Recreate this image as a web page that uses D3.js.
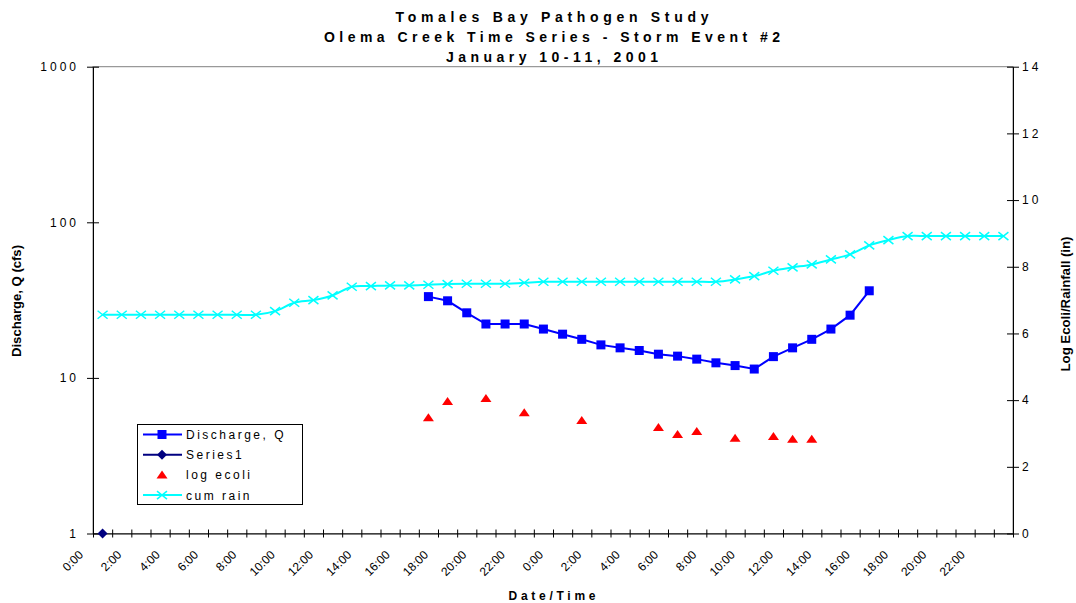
<!DOCTYPE html>
<html lang="en">

<head>
  <meta charset="UTF-8">
  <title>Olema Creek Time Series</title>
  <script src="https://cdn.jsdelivr.net/npm/d3@7.6.1/dist/d3.min.js"></script>
  <style>
    body { margin: 0; background: #fff; }
    svg { display: block; font-family: "Liberation Sans", Arial, sans-serif; }
  </style>
</head>

<body>
  <div id="chart"></div>
  <script>
    const width = 1076
    const height = 603

    // hourly categories, two days
    const categories = [
      '0:00', '1:00', '2:00', '3:00', '4:00', '5:00', '6:00', '7:00', '8:00', '9:00', '10:00', '11:00',
      '12:00', '13:00', '14:00', '15:00', '16:00', '17:00', '18:00', '19:00', '20:00', '21:00', '22:00', '23:00',
      '0:00', '1:00', '2:00', '3:00', '4:00', '5:00', '6:00', '7:00', '8:00', '9:00', '10:00', '11:00',
      '12:00', '13:00', '14:00', '15:00', '16:00', '17:00', '18:00', '19:00', '20:00', '21:00', '22:00', '23:00'
    ]
    // discharge, cfs (left log axis)
    const discharge = [
      null, null, null, null, null, null, null, null, null, null, null, null,
      null, null, null, null, null, 33.3, 31.3, 26.2, 22.2, 22.2, 22.2, 20.6,
      19.1, 17.7, 16.3, 15.6, 15.0, 14.2, 13.8, 13.2, 12.5, 12.0, 11.4, 13.7,
      15.6, 17.7, 20.6, 25.3, 36.3, null, null, null, null, null, null, null
    ]
    const series1 = [1]
    // log ecoli (right axis)
    const logEcoli = [
      null, null, null, null, null, null, null, null, null, null, null, null,
      null, null, null, null, null, 3.47, 3.96, null, 4.05, null, 3.62, null,
      null, 3.39, null, null, null, 3.18, 2.97, 3.06, null, 2.86, null, 2.91,
      2.83, 2.83, null, null, null, null, null, null, null, null, null, null
    ]
    // cumulative rain, in (right axis)
    const cumRain = [
      6.56, 6.56, 6.56, 6.56, 6.56, 6.56, 6.56, 6.56, 6.56, 6.67, 6.92, 7.00,
      7.14, 7.40, 7.42, 7.44, 7.44, 7.46, 7.48, 7.49, 7.49, 7.49, 7.52, 7.55,
      7.55, 7.55, 7.55, 7.55, 7.55, 7.55, 7.55, 7.55, 7.55, 7.62, 7.72, 7.88,
      7.98, 8.07, 8.22, 8.37, 8.64, 8.80, 8.92, 8.92, 8.92, 8.92, 8.92, 8.92
    ]
    const leftTicks = [1, 10, 100, 1000]
    const rightTicks = [0, 2, 4, 6, 8, 10, 12, 14]
    const titleLines = ['Tomales Bay Pathogen Study', 'Olema Creek Time Series - Storm Event #2', 'January 10-11, 2001']
    const legendNames = ['Discharge, Q', 'Series1', 'log ecoli', 'cum rain']

    const plot = { left: 93, right: 1013, top: 66.7, bottom: 533.5 }

    const x = d3.scaleLinear().domain([0, categories.length]).range([plot.left, plot.right])
    const cx = i => x(i + 0.5)
    const yL = d3.scaleLog().domain([1, 1000]).range([plot.bottom, plot.top])
    const yR = d3.scaleLinear().domain([0, 14]).range([plot.bottom, plot.top])

    const svg = d3.select('#chart').append('svg')
      .attr('width', width)
      .attr('height', height)

    // plot area border
    svg.append('rect')
      .attr('x', plot.left).attr('y', plot.top)
      .attr('width', plot.right - plot.left).attr('height', plot.bottom - plot.top)
      .attr('fill', 'none').attr('stroke', '#808080')

    // left axis
    const gl = svg.append('g').attr('transform', `translate(${plot.left},0)`)
      .call(d3.axisLeft(yL).tickValues(leftTicks).tickFormat(d3.format('d')).tickSize(6).tickSizeOuter(0))
    gl.selectAll('.tick line').attr('x1', 6)
    gl.selectAll('text').attr('x', -14).attr('font-size', 12).attr('letter-spacing', 3)
      .attr('font-family', '"Liberation Sans", Arial, sans-serif').attr('fill', '#000')

    // right axis
    const gr = svg.append('g').attr('transform', `translate(${plot.right},0)`)
      .call(d3.axisRight(yR).tickValues(rightTicks).tickSize(6).tickSizeOuter(0))
    gr.selectAll('.tick line').attr('x1', -6)
    gr.selectAll('text').attr('x', 9).attr('font-size', 12).attr('letter-spacing', 3)
      .attr('font-family', '"Liberation Sans", Arial, sans-serif').attr('fill', '#000')

    // bottom axis, ticks at category edges
    const gb = svg.append('g').attr('transform', `translate(0,${plot.bottom})`)
      .call(d3.axisBottom(x).tickValues(d3.range(categories.length + 1)).tickFormat('').tickSize(4).tickSizeOuter(0))
    gb.selectAll('.tick line').attr('y1', -4)

    svg.selectAll('path.domain, .tick line').attr('stroke', '#000')

    // category labels every 2 hours
    svg.append('g').selectAll('text')
      .data(categories.map((c, i) => ({ c, i })).filter(d => d.i % 2 === 0))
      .enter().append('text')
      .attr('transform', d => `translate(${x(d.i) - 9},${plot.bottom + 22}) rotate(-45)`)
      .attr('text-anchor', 'end')
      .attr('font-size', 12)
      .text(d => d.c)

    // cum rain
    const rainPts = cumRain.map((v, i) => [cx(i), yR(v)])
    svg.append('path')
      .attr('d', d3.line().curve(d3.curveCatmullRom.alpha(0))(rainPts))
      .attr('fill', 'none').attr('stroke', '#00ffff').attr('stroke-width', 2)
    svg.append('g').selectAll('path').data(rainPts).enter().append('path')
      .attr('d', d => `M${d[0] - 5},${d[1] - 4}L${d[0] + 5},${d[1] + 4}M${d[0] - 5},${d[1] + 4}L${d[0] + 5},${d[1] - 4}`)
      .attr('stroke', '#00ffff').attr('stroke-width', 1.5)

    // discharge
    const qPts = discharge.map((v, i) => v == null ? null : [cx(i), yL(v)]).filter(d => d)
    svg.append('path')
      .attr('d', d3.line()(qPts))
      .attr('fill', 'none').attr('stroke', '#0000ff').attr('stroke-width', 2)
    svg.append('g').selectAll('rect').data(qPts).enter().append('rect')
      .attr('x', d => d[0] - 4.5).attr('y', d => d[1] - 4.5)
      .attr('width', 9).attr('height', 9).attr('fill', '#0000ff')

    // series1
    svg.append('g').selectAll('path').data(series1).enter().append('path')
      .attr('d', (d, i) => `M${cx(i)},${yL(d) - 5}L${cx(i) + 5},${yL(d)}L${cx(i)},${yL(d) + 5}L${cx(i) - 5},${yL(d)}Z`)
      .attr('fill', '#000080')

    // log ecoli
    const ePts = logEcoli.map((v, i) => v == null ? null : [cx(i), yR(v)]).filter(d => d)
    svg.append('g').selectAll('path').data(ePts).enter().append('path')
      .attr('d', d => `M${d[0]},${d[1] - 4.5}L${d[0] + 5.5},${d[1] + 3.5}L${d[0] - 5.5},${d[1] + 3.5}Z`)
      .attr('fill', '#ff0000')

    // titles
    const titleWidths = [313, 456, 212]
    const titleY = [22, 42, 62]
    svg.append('g').selectAll('text').data(titleLines).enter().append('text')
      .attr('x', 552).attr('y', (d, i) => titleY[i])
      .attr('text-anchor', 'middle').attr('font-size', 14).attr('font-weight', 'bold')
      .attr('textLength', (d, i) => titleWidths[i]).attr('lengthAdjust', 'spacing')
      .text(d => d)

    svg.append('text')
      .attr('x', 552).attr('y', 600).attr('text-anchor', 'middle')
      .attr('font-size', 12).attr('font-weight', 'bold')
      .attr('textLength', 87).attr('lengthAdjust', 'spacing')
      .text('Date/Time')

    svg.append('text')
      .attr('transform', 'translate(21,301) rotate(-90)').attr('text-anchor', 'middle')
      .attr('font-size', 12.5).attr('font-weight', 'bold')
      .attr('textLength', 112).attr('lengthAdjust', 'spacingAndGlyphs')
      .text('Discharge, Q (cfs)')

    svg.append('text')
      .attr('transform', 'translate(1070,304) rotate(-90)').attr('text-anchor', 'middle')
      .attr('font-size', 12.5).attr('font-weight', 'bold')
      .attr('textLength', 135).attr('lengthAdjust', 'spacingAndGlyphs')
      .text('Log Ecoli/Rainfall (in)')

    // legend
    const lg = svg.append('g')
    lg.append('rect').attr('x', 137.5).attr('y', 424.5).attr('width', 165).attr('height', 80)
      .attr('fill', '#fff').attr('stroke', '#000')
    const ly = i => 434.5 + i * 20.2
    const lx0 = 143, lx1 = 182, lm = 162
    // discharge
    lg.append('line').attr('x1', lx0).attr('x2', lx1).attr('y1', ly(0)).attr('y2', ly(0)).attr('stroke', '#0000ff').attr('stroke-width', 2)
    lg.append('rect').attr('x', lm - 4.5).attr('y', ly(0) - 4.5).attr('width', 9).attr('height', 9).attr('fill', '#0000ff')
    // series1
    lg.append('line').attr('x1', lx0).attr('x2', lx1).attr('y1', ly(1)).attr('y2', ly(1)).attr('stroke', '#000080').attr('stroke-width', 2)
    lg.append('path').attr('d', `M${lm},${ly(1) - 5}L${lm + 5},${ly(1)}L${lm},${ly(1) + 5}L${lm - 5},${ly(1)}Z`).attr('fill', '#000080')
    // log ecoli
    lg.append('path').attr('d', `M${lm},${ly(2) - 4.5}L${lm + 5.5},${ly(2) + 3.5}L${lm - 5.5},${ly(2) + 3.5}Z`).attr('fill', '#ff0000')
    // cum rain
    lg.append('line').attr('x1', lx0).attr('x2', lx1).attr('y1', ly(3)).attr('y2', ly(3)).attr('stroke', '#00ffff').attr('stroke-width', 2)
    lg.append('path').attr('d', `M${lm - 5},${ly(3) - 4}L${lm + 5},${ly(3) + 4}M${lm - 5},${ly(3) + 4}L${lm + 5},${ly(3) - 4}`)
      .attr('stroke', '#00ffff').attr('stroke-width', 1.5)
    lg.selectAll('text.name').data(legendNames).enter().append('text')
      .attr('x', 186).attr('y', (d, i) => ly(i) + 4.5)
      .attr('font-size', 12).attr('letter-spacing', 2.5)
      .text(d => d)
  </script>
</body>

</html>
